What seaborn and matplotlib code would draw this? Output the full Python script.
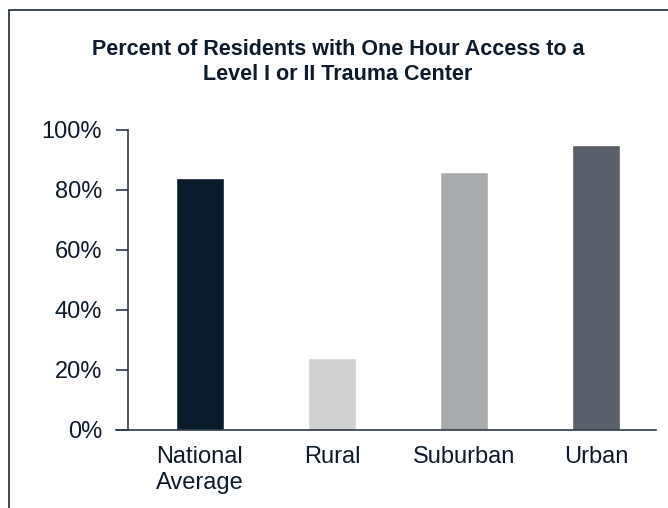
import matplotlib
matplotlib.use("Agg")
import matplotlib.pyplot as plt
from matplotlib.lines import Line2D
import seaborn as sns

# chart values
categories = ["National\nAverage", "Rural", "Suburban", "Urban"]
pct_access = [84, 24, 86, 95]
bar_colors = ["#081a2c", "#d0d1d3", "#a8abae", "#585f69"]
y_ticks = [0, 20, 40, 60, 80, 100]

sns.set_style("white")
plt.rcParams["font.family"] = ["Liberation Sans", "DejaVu Sans"]

axis_col = "#2d3a48"
text_col = "#0d1b2a"

fig = plt.figure(figsize=(6.68, 5.08), dpi=100)
ax = fig.add_axes([128 / 668, 78 / 508, 528 / 668, 300 / 508])

sns.barplot(x=categories, y=pct_access, hue=categories, palette=bar_colors,
            width=48 / 132, saturation=1, legend=False, ax=ax)

# category centres sit 72px from the y axis, 132px apart
ax.set_xlim(-72 / 132, 3 + 60 / 132)
ax.set_ylim(0, 100)
ax.set_yticks(y_ticks)
ax.set_yticklabels([f"{t}%" for t in y_ticks])
ax.set_xlabel("")
ax.set_ylabel("")

sns.despine(ax=ax, top=True, right=True)
for side in ["left", "bottom"]:
    ax.spines[side].set_color(axis_col)
    ax.spines[side].set_linewidth(1.2)
ax.spines["bottom"].set_bounds(-84 / 132, 3 + 60 / 132)
ax.spines["bottom"].set_clip_on(False)
ax.tick_params(axis="y", left=True, length=8.6, width=1.2, color=axis_col,
               labelsize=17, labelcolor=text_col, pad=10, direction="out")
ax.tick_params(axis="x", bottom=False, length=0, labelsize=17,
               labelcolor=text_col, pad=11.5)
for lbl in ax.get_xticklabels():
    lbl.set_linespacing(1.25)

fig.text(338 / 668, 1 - 62 / 508,
         "Percent of Residents with One Hour Access to a\nLevel I or II Trauma Center",
         ha="center", va="center", fontsize=15.5, fontweight="bold",
         color=text_col, linespacing=1.25)

# border of the frame (left and top only, rest is cropped)
fig.add_artist(Line2D([9 / 668, 9 / 668], [0, 1 - 10 / 508],
                      transform=fig.transFigure, color=axis_col, lw=1.3))
fig.add_artist(Line2D([9 / 668, 1], [1 - 10 / 508, 1 - 10 / 508],
                      transform=fig.transFigure, color=axis_col, lw=1.3))

fig.savefig("out.png", dpi=100)
